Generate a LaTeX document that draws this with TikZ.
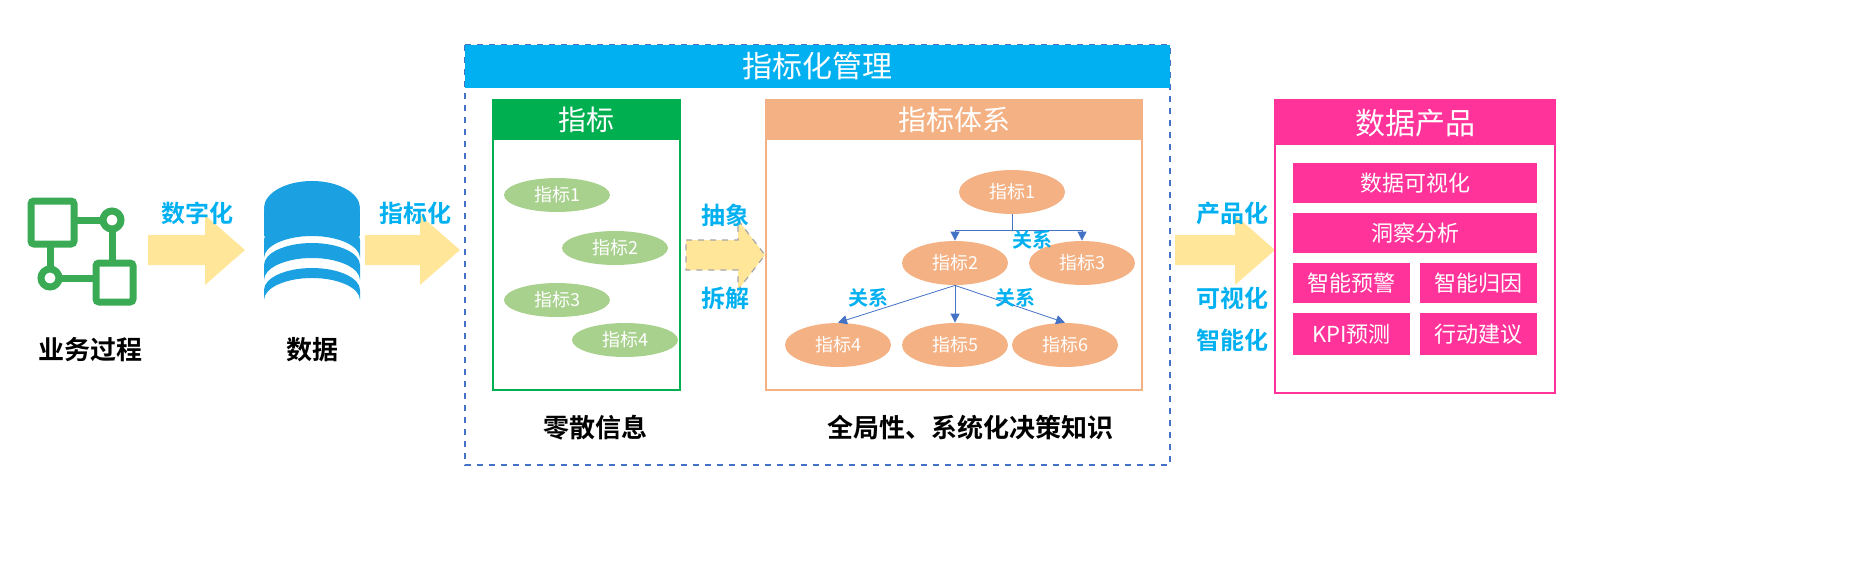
\documentclass[tikz,border=0pt]{standalone}
\usepackage{fontspec}
\setmainfont{Noto Sans CJK SC}
\newfontfamily\cjkb{Noto Sans CJK SC Bold}
\usetikzlibrary{shapes.geometric,arrows.meta}
\definecolor{cy}{HTML}{00B0F0}
\definecolor{gr}{HTML}{00B050}
\definecolor{lg}{HTML}{A9D18E}
\definecolor{or}{HTML}{F4B183}
\definecolor{pk}{HTML}{FF3399}
\definecolor{ar}{HTML}{FFE699}
\definecolor{ic}{HTML}{3AAA55}
\definecolor{db}{HTML}{1BA1E2}
\definecolor{ln}{HTML}{4472C4}
\tikzset{
 fs/.style={font=\fontsize{#1/2}{#1/2}\selectfont},
 lbl/.style={text=cy,font=\cjkb\fontsize{12}{12}\selectfont},
 rlbl/.style={text=cy,font=\cjkb\fontsize{10}{10}\selectfont},
 blk/.style={text=black,font=\cjkb\fontsize{13}{13}\selectfont},
 gel/.style={ellipse,fill=lg,minimum width=53pt,minimum height=17pt,inner sep=0pt,text=white,font=\fontsize{9}{9}\selectfont},
 oel/.style={ellipse,fill=or,minimum width=53pt,minimum height=22pt,inner sep=0pt,text=white,font=\fontsize{9}{9}\selectfont},
 pbar/.style={fill=pk,text=white,font=\fontsize{11}{11}\selectfont,inner sep=0pt},
 rel/.style={ln,line width=0.4pt,-{Triangle[length=4.5pt,width=4.5pt]}},
 bigarrow/.style={fill=ar},
}
\begin{document}
\begin{tikzpicture}[x=0.5pt,y=-0.5pt]
\useasboundingbox (0,0) rectangle (1856,580);
% icon
\begin{scope}[ic,line width=3.5pt]
\draw[rounded corners=1.5pt] (31,201) rectangle (74,244);
\draw[rounded corners=1.5pt] (96,263) rectangle (133,302);
\draw (74,220) -- (103,220); \draw (112,229) -- (112,263);
\draw (50,244) -- (50,268); \draw (59,278) -- (96,278);
\draw (112,220) circle (9); \draw (50,278) circle (9);
\end{scope}
\node[blk] (bp) at (90,350) {业务过程};
% arrow 1
\fill[bigarrow] (148,235) -- (205,235) -- (205,215) -- (245,250) -- (205,285) -- (205,265) -- (148,265) -- cycle;
\node[lbl] (l1) at (197,213) {数字化};
% database
\begin{scope}[db]
\fill (264,290) arc (180:360:48 and 22) -- (360,300) arc (0:-180:48 and 22) -- cycle;
\fill (264,265) arc (180:360:48 and 22) -- (360,280) arc (0:-180:48 and 22) -- cycle;
\fill (264,240) arc (180:360:48 and 22) -- (360,258) arc (0:-180:48 and 22) -- cycle;
\fill (312,208) ellipse (48 and 27);
\fill (264,210) rectangle (360,236);
\end{scope}
\node[blk] (sj) at (312,350) {数据};
% arrow 2
\fill[bigarrow] (365,235) -- (420,235) -- (420,215) -- (460,250) -- (420,285) -- (420,265) -- (365,265) -- cycle;
\node[lbl] (l2) at (415,213) {指标化};
% outer
\draw[ln,dashed,line width=0.6pt] (465,45) rectangle (1170,465);
\fill[cy] (465,45) rectangle (1170,88);
\node[text=white,font=\fontsize{15}{15}\selectfont] (hd) at (817,66) {指标化管理};
% green box
\draw[gr,line width=0.8pt] (493,100) rectangle (680,390);
\fill[gr] (493,100) rectangle (680,140);
\node[text=white,font=\fontsize{14}{14}\selectfont] (zb) at (586,120) {指标};
\node[gel] (g1) at (557,195) {指标1};
\node[gel] (g2) at (615,248) {指标2};
\node[gel] (g3) at (557,300) {指标3};
\node[gel] (g4) at (625,340) {指标4};
\node[blk] (lx) at (595,428) {零散信息};
% dashed arrow
\draw[bigarrow,draw=gray!70,dashed,line width=0.6pt] (686,240) -- (738,240) -- (738,220) -- (765,255) -- (738,290) -- (738,270) -- (686,270) -- cycle;
\node[lbl] (cx) at (725,215) {抽象};
\node[lbl] (cj) at (725,298) {拆解};
% orange box
\draw[or,line width=0.8pt] (766,100) rectangle (1142,390);
\fill[or] (766,100) rectangle (1142,140);
\node[text=white,font=\fontsize{14}{14}\selectfont] (tx) at (954,120) {指标体系};
\node[oel] (o1) at (1012,192) {指标1};
\node[oel] (o2) at (955,263) {指标2};
\node[oel] (o3) at (1082,263) {指标3};
\node[oel] (o4) at (838,345) {指标4};
\node[oel] (o5) at (955,345) {指标5};
\node[oel] (o6) at (1065,345) {指标6};
\draw[ln,line width=0.4pt] (o1.south) -- ++(0,16) coordinate (j);
\draw[rel] (j) -| (o2.north);
\draw[rel] (j) -| (o3.north);
\draw[rel] (o2.south) -- (o4.north);
\draw[rel] (o2.south) -- (o5.north);
\draw[rel] (o2.south) -- (o6.north);
\node[rlbl] (r1) at (1032,240) {关系};
\node[rlbl] (r2) at (868,298) {关系};
\node[rlbl] (r3) at (1015,298) {关系};
\node[blk] (qj) at (970,428) {全局性、系统化决策知识};
% arrow 3
\fill[bigarrow] (1175,235) -- (1235,235) -- (1235,215) -- (1275,250) -- (1235,285) -- (1235,265) -- (1175,265) -- cycle;
\node[lbl] (p1) at (1232,213) {产品化};
\node[lbl] (p2) at (1232,298) {可视化};
\node[lbl] (p3) at (1232,340) {智能化};
% pink box
\draw[pk,line width=0.8pt] (1275,100) rectangle (1555,393);
\fill[pk] (1275,100) rectangle (1555,145);
\node[text=white,font=\fontsize{15}{15}\selectfont] (cp) at (1415,123) {数据产品};
\node[pbar,minimum width=122pt,minimum height=20pt] (b1) at (1415,183) {数据可视化};
\node[pbar,minimum width=122pt,minimum height=20pt] (b2) at (1415,233) {洞察分析};
\node[pbar,minimum width=58.5pt,minimum height=20pt] (b3) at (1351.5,283) {智能预警};
\node[pbar,minimum width=58.5pt,minimum height=20pt] (b4) at (1478.5,283) {智能归因};
\node[pbar,minimum width=58.5pt,minimum height=21pt] (b5) at (1351.5,334) {KPI预测};
\node[pbar,minimum width=58.5pt,minimum height=21pt] (b6) at (1478.5,334) {行动建议};
\end{tikzpicture}
\end{document}
